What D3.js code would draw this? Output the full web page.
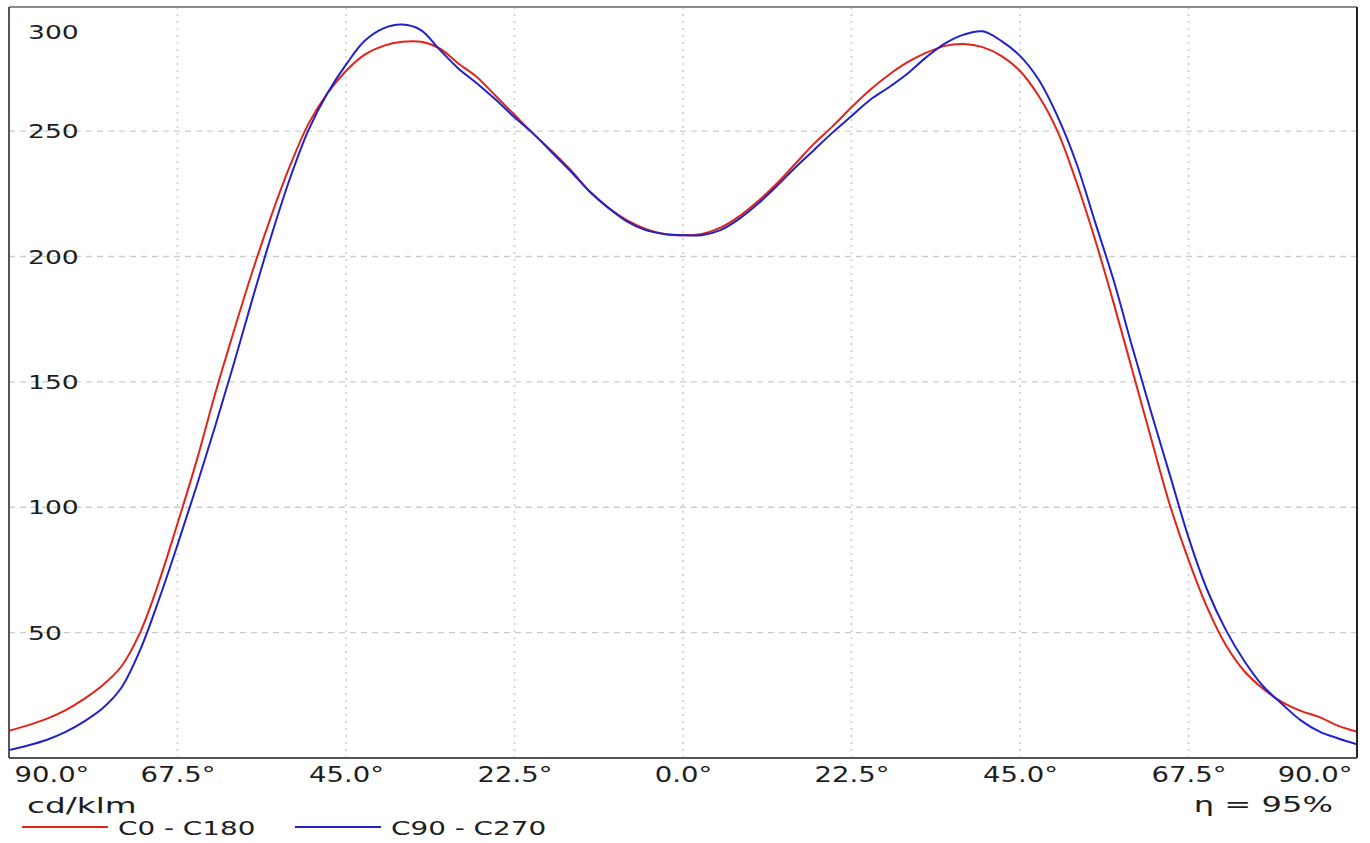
<!DOCTYPE html>
<html>
<head>
<meta charset="utf-8">
<script src="https://cdn.jsdelivr.net/npm/d3@7"></script>
<style>
  html, body { margin: 0; padding: 0; background: #ffffff; }
  svg { display: block; }
  text { font-family: "DejaVu Sans", Verdana, sans-serif; fill: #1e1e1e; }
</style>
</head>
<body>
<svg id="chart" width="1370" height="843"></svg>
<script>
// ---- data ----
const angles = [-90,-87.5,-85,-82.5,-80,-77.5,-75,-72.5,-70,-67.5,-65,-62.5,-60,-57.5,-55,-52.5,-50,-47.5,-45,-42.5,-40,-37.5,-35,-32.5,-30,-27.5,-25,-22.5,-20,-17.5,-15,-12.5,-10,-7.5,-5,-2.5,0,2.5,5,7.5,10,12.5,15,17.5,20,22.5,25,27.5,30,32.5,35,37.5,40,42.5,45,47.5,50,52.5,55,57.5,60,62.5,65,67.5,70,72.5,75,77.5,80,82.5,85,87.5,90];
const c0c180 = [10.9,13.0,15.6,19.0,23.5,29.0,36.5,50,70,93.5,118,145,170,194,216,236,253,265,274,280.5,284,285.6,285.6,283,277,271.5,264,256.5,249,242,234.5,226,219.5,214.5,211,209,208.5,209,211.5,216,222,229,237,245,252,259.5,266.5,272.5,277.5,281.3,284,284.7,283.5,280,274,264,250,230,207,181.5,154.5,127.5,101,79,60,45,34.5,27.5,22.3,18.8,16.3,12.8,10.5];
const c90c270 = [3.2,5.0,7.2,10.3,14.5,19.8,28,43,63,85,108,132,157,183,208,231,250.5,265,276.5,286,291,292.5,290.3,282.5,275,269,262.5,255.5,249,241.5,234,226,219.5,214,210.5,209,208.5,208.5,210.5,215,221,228,235.5,242.5,249.5,256,262.5,267.5,273,279.5,285,288.5,289.8,286,280,270.5,256,237.5,214,190.5,163.8,138,113,88,67,51,38.5,28.5,21.5,15.0,10.5,7.8,5.5];
const xTicks = [-90,-67.5,-45,-22.5,0,22.5,45,67.5,90];
const yTicks = [50,100,150,200,250,300];
const seriesNames = ["C0 - C180","C90 - C270"];
const seriesColors = ["#e2231a","#2121cc"];
const unitLabel = "cd/klm";
const effLabel = "\u03b7 = 95%";

// ---- layout ----
const L = 9, R = 1357, T = 7, B = 758;
const svg = d3.select("#chart");
const x = d3.scaleLinear().domain([-90, 90]).range([L, R]);
const y = d3.scaleLinear().domain([0, 299.5]).range([B, T]);

// gridlines
svg.append("g").selectAll("line").data(yTicks.filter(v => y(v) > T + 2)).join("line")
  .attr("x1", L).attr("x2", R).attr("y1", d => y(d)).attr("y2", d => y(d))
  .attr("stroke", "#cdcdcd").attr("stroke-width", 1.3).attr("stroke-dasharray", "6,5");
svg.append("g").selectAll("line").data(xTicks.filter(v => v > -90 && v < 90)).join("line")
  .attr("x1", d => x(d)).attr("x2", d => x(d)).attr("y1", T).attr("y2", B)
  .attr("stroke", "#cdcdcd").attr("stroke-width", 1.6).attr("stroke-dasharray", "2,5");

// curves
svg.append("clipPath").attr("id", "clip").append("rect")
  .attr("x", L).attr("y", T).attr("width", R - L).attr("height", B - T);
const line = d3.line().x(d => x(d[0])).y(d => y(d[1])).curve(d3.curveCatmullRom.alpha(0.5));
[c0c180, c90c270].forEach((vals, i) => {
  svg.append("path")
    .datum(angles.map((a, k) => [a, vals[k]]))
    .attr("clip-path", "url(#clip)")
    .attr("fill", "none")
    .attr("stroke", seriesColors[i])
    .attr("stroke-width", 2)
    .attr("d", line);
});

// frame
svg.append("line").attr("x1", L).attr("x2", R).attr("y1", T).attr("y2", T).attr("stroke", "#8a8a8a").attr("stroke-width", 2);
svg.append("line").attr("x1", L).attr("x2", L).attr("y1", T).attr("y2", B).attr("stroke", "#555").attr("stroke-width", 2);
svg.append("line").attr("x1", R).attr("x2", R).attr("y1", T).attr("y2", B).attr("stroke", "#222").attr("stroke-width", 2);
svg.append("line").attr("x1", L).attr("x2", R).attr("y1", B).attr("y2", B).attr("stroke", "#555").attr("stroke-width", 2);

// y axis labels (inside)
const sY = 1.4;
const yAx = svg.append("g").attr("transform", `translate(${L + 19},0)`)
  .call(d3.axisRight(y).tickValues(yTicks).tickSize(0).tickPadding(0).tickFormat(d3.format("d")));
yAx.select(".domain").remove();
yAx.selectAll("text")
  .attr("x", 0).attr("dy", "0.35em")
  .style("font-size", "19px").style("font-family", "DejaVu Sans, Verdana, sans-serif").style("fill", "#1e1e1e")
  .attr("transform", d => `translate(0,${Math.max(0, T + 25 - y(d))}) scale(${sY},1)`);

// x axis labels
const sX = 1.34;
const xAx = svg.append("g").attr("transform", `translate(0,${B})`)
  .call(d3.axisBottom(x).tickValues(xTicks).tickSize(0).tickPadding(9.5)
    .tickFormat(d => Math.abs(d).toFixed(1) + "\u00b0"));
xAx.select(".domain").remove();
xAx.selectAll("text")
  .style("font-size", "20.5px").style("font-family", "DejaVu Sans, Verdana, sans-serif").style("fill", "#1e1e1e")
  .attr("text-anchor", d => d === -90 ? "start" : d === 90 ? "end" : "middle")
  .attr("x", d => d === -90 ? 5 / sX : d === 90 ? -5 / sX : 0)
  .attr("transform", `scale(${sX},1)`);

// unit and efficiency
svg.append("text").attr("transform", `translate(27,813) scale(1.52,1)`)
  .style("font-size", "21.5px").text(unitLabel);
svg.append("text").attr("transform", `translate(1333,812) scale(1.57,1)`)
  .attr("text-anchor", "end").style("font-size", "20.5px").text(effLabel);

// legend
const legX = [22, 295];
seriesNames.forEach((n, i) => {
  const g = svg.append("g").attr("transform", `translate(${legX[i]},827)`);
  g.append("line").attr("x1", 0).attr("x2", 86).attr("y1", 0).attr("y2", 0)
    .attr("stroke", seriesColors[i]).attr("stroke-width", 2);
  g.append("text").attr("transform", `translate(96,8) scale(1.42,1)`)
    .style("font-size", "19.6px").text(n);
});
</script>
</body>
</html>
